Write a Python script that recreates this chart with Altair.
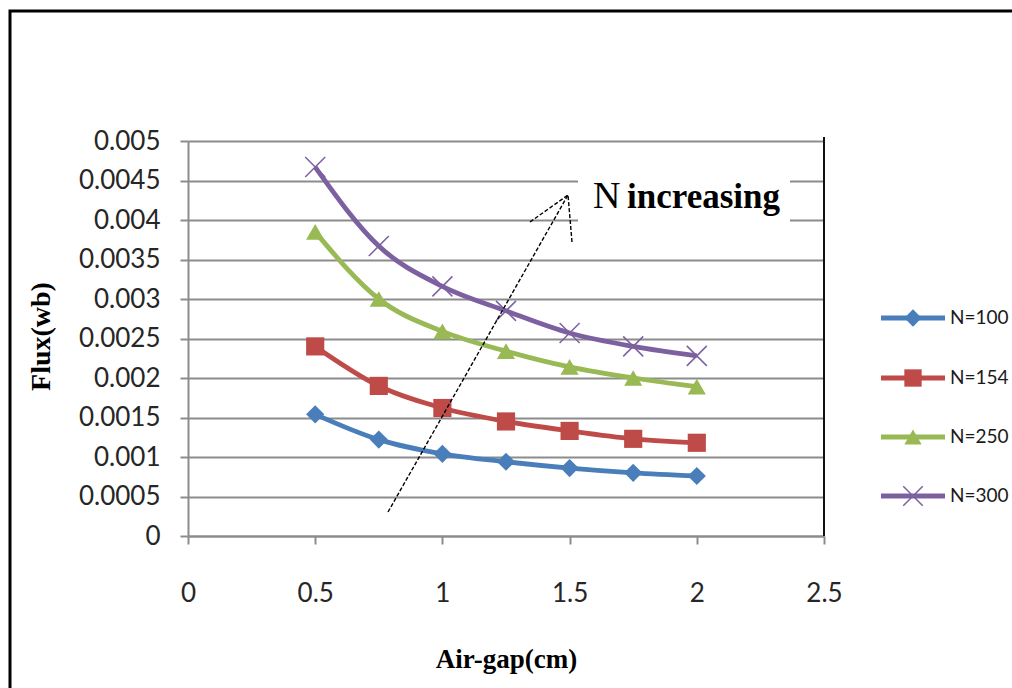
import altair as alt
import pandas as pd

# ---------------- data ----------------
gap_cm = [0.5, 0.75, 1.0, 1.25, 1.5, 1.75, 2.0]
series_names = ["N=100", "N=154", "N=250", "N=300"]
flux_n100 = [0.00154, 0.00122, 0.00104, 0.00094, 0.00086, 0.00080, 0.00076]
flux_n154 = [0.00240, 0.00190, 0.00162, 0.00145, 0.00133, 0.00123, 0.00118]
flux_n250 = [0.00385, 0.00300, 0.00259, 0.00234, 0.00214, 0.00200, 0.00189]
flux_n300 = [0.00467, 0.00367, 0.00316, 0.00285, 0.00257, 0.00240, 0.00228]
x_ticks = [0, 0.5, 1, 1.5, 2, 2.5]
y_ticks = [0, 0.0005, 0.001, 0.0015, 0.002, 0.0025, 0.003, 0.0035, 0.004, 0.0045, 0.005]
annotation_text = ["N", "increasing"]

# ---------------- layout / style ----------------
colors = ["#4a7ebb", "#be4b48", "#98b954", "#7d60a0"]
shapes = ["diamond", "square", "triangle-up", "M-1,-1L1,1M-1,1L1,-1"]
W, H = 636, 395
PL, PT = 188, 141
PR = 1012 - PL - W
PB = 688 - PT - H
XMAX, YMAX = 2.5, 0.005
GRID = "#8c8c8c"


def px_to_x(px):
    return (px - PL) / W * XMAX


def py_to_y(py):
    return (PT + H - py) / H * YMAX


rows = []
for name, vals in zip(series_names, [flux_n100, flux_n154, flux_n250, flux_n300]):
    for g, f in zip(gap_cm, vals):
        rows.append({"gap": g, "flux": f, "series": name})
df = pd.DataFrame(rows)

xs = alt.Scale(domain=[0, XMAX], nice=False, zero=False)
ys = alt.Scale(domain=[0, YMAX], nice=False, zero=False)
color = alt.Color("series:N", scale=alt.Scale(domain=series_names, range=colors), legend=None)
shape = alt.Shape("series:N", scale=alt.Scale(domain=series_names, range=shapes), legend=None)

x_axis = alt.Axis(
    values=x_ticks, format="~g", grid=False, labelOverlap=False, labelFlush=False,
    domainColor=GRID, domainWidth=2, tickColor=GRID, tickWidth=2, tickSize=8,
    labelFont="Lato", labelFontSize=26, labelColor="#262626", labelPadding=36,
    titleFont="Liberation Serif", titleFontWeight="bold", titleFontSize=27,
    titleColor="black", titleBaseline="alphabetic", titleY=131,
)
y_axis = alt.Axis(
    values=y_ticks, format="~g", grid=True, gridColor=GRID, gridWidth=2,
    labelOverlap=False, labelFlush=False,
    domainColor=GRID, domainWidth=2, tickColor=GRID, tickWidth=2, tickSize=8,
    labelFont="Lato", labelFontSize=26, labelColor="#262626", labelPadding=20,
    titleFont="Liberation Serif", titleFontWeight="bold", titleFontSize=28,
    titleColor="black", titleAngle=270, titleBaseline="alphabetic",
    titleAlign="center", titleX=-139, titleY=195,
)


def X(field):
    return alt.X(field, type="quantitative", scale=xs, axis=x_axis, title="Air-gap(cm)")


def Y(field):
    return alt.Y(field, type="quantitative", scale=ys, axis=y_axis, title="Flux(wb)")


base = alt.Chart(df)

lines = base.mark_line(strokeWidth=4.8, interpolate="monotone").encode(
    x=X("gap"), y=Y("flux"), color=color, detail="series:N",
)

pts_filled = base.transform_filter(alt.datum.series != "N=300").mark_point(
    filled=True, size=330, opacity=1
).encode(x=X("gap"), y=Y("flux"), color=color, shape=shape)

pts_cross = base.transform_filter(alt.datum.series == "N=300").mark_point(
    filled=False, size=400, strokeWidth=1.5, opacity=1
).encode(x=X("gap"), y=Y("flux"), color=color, shape=shape)

# frame around the whole picture
one = pd.DataFrame({"k": [0]})
frame = alt.Chart(one).mark_rect(fill="transparent", stroke="black", strokeWidth=3).encode(
    x=alt.value(10 - PL), x2=alt.value(1100), y=alt.value(11 - PT), y2=alt.value(800)
)
right_border = alt.Chart(one).mark_rule(color="#111111", strokeWidth=2).encode(
    x=alt.value(W), y=alt.value(-4), y2=alt.value(H)
)

# annotation: white box, arrow, text
box_df = pd.DataFrame({"x": [px_to_x(578)], "x2": [px_to_x(790)],
                       "y": [py_to_y(226)], "y2": [py_to_y(172)]})
box = alt.Chart(box_df).mark_rect(fill="white").encode(
    x=X("x"), x2="x2:Q", y=Y("y"), y2="y2:Q"
)

arrow_df = pd.DataFrame({
    "x": [px_to_x(388), px_to_x(530), px_to_x(572)],
    "y": [py_to_y(512), py_to_y(222), py_to_y(242)],
    "x2": [px_to_x(568)] * 3,
    "y2": [py_to_y(195)] * 3,
})
arrow = alt.Chart(arrow_df).mark_rule(color="black", strokeWidth=1.4, strokeDash=[4, 2]).encode(
    x=X("x"), y=Y("y"), x2="x2:Q", y2="y2:Q"
)

txt_n = alt.Chart(pd.DataFrame({"x": [px_to_x(593)], "y": [py_to_y(208)], "t": [annotation_text[0]]})).mark_text(
    font="Liberation Serif", fontSize=38, align="left", baseline="alphabetic", color="black"
).encode(x=X("x"), y=Y("y"), text="t:N")
txt_inc = alt.Chart(pd.DataFrame({"x": [px_to_x(627)], "y": [py_to_y(208)], "t": [annotation_text[1]]})).mark_text(
    font="Liberation Serif", fontSize=35, fontWeight="bold", align="left", baseline="alphabetic", color="black"
).encode(x=X("x"), y=Y("y"), text="t:N")

# legend (drawn through the same scales, outside the plot area)
leg_py = [318, 378, 437, 496]
leg_df = pd.DataFrame({
    "series": series_names,
    "x1": [px_to_x(881)] * 4,
    "x2": [px_to_x(945)] * 4,
    "xm": [px_to_x(913)] * 4,
    "xt": [px_to_x(950)] * 4,
    "y": [py_to_y(p) for p in leg_py],
})
leg_base = alt.Chart(leg_df)
leg_lines = leg_base.mark_rule(strokeWidth=4.8).encode(
    x=X("x1"), x2="x2:Q", y=Y("y"), color=color
)
leg_pts = leg_base.transform_filter(alt.datum.series != "N=300").mark_point(
    filled=True, size=300, opacity=1
).encode(x=X("xm"), y=Y("y"), color=color, shape=shape)
leg_cross = leg_base.transform_filter(alt.datum.series == "N=300").mark_point(
    filled=False, size=380, strokeWidth=1.5, opacity=1
).encode(x=X("xm"), y=Y("y"), color=color, shape=shape)
leg_text = leg_base.mark_text(
    font="Lato", fontSize=19, align="left", baseline="middle", color="#1a1a1a"
).encode(x=X("xt"), y=Y("y"), text="series:N")

chart = alt.layer(
    lines, frame, box, right_border, pts_filled, pts_cross, arrow, txt_n, txt_inc,
    leg_lines, leg_pts, leg_cross, leg_text,
).properties(
    width=W, height=H,
    autosize=alt.AutoSizeParams(type="none"),
    padding={"left": PL, "top": PT, "right": PR, "bottom": PB},
    background="white",
).configure_view(stroke=None)

chart.save("out.html", embed_options={"renderer": "svg", "actions": False})
